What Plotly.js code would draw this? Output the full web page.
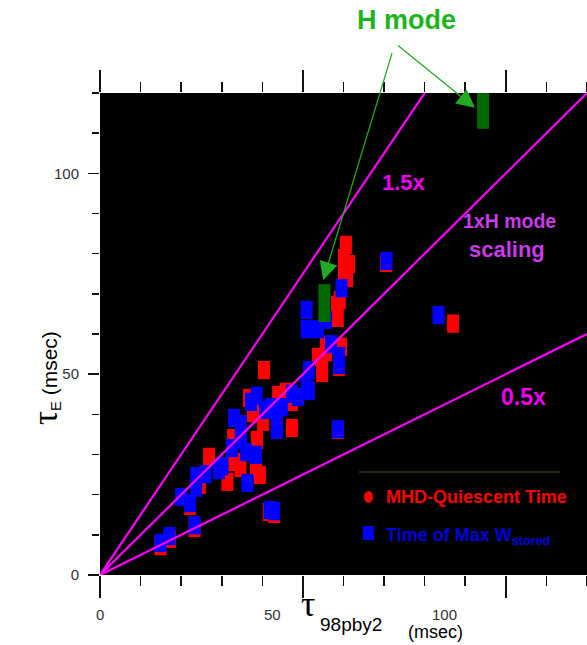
<!DOCTYPE html>
<html><head><meta charset="utf-8">
<script src="https://cdn.plot.ly/plotly-3.0.1.min.js"></script>
<style>html,body{margin:0;padding:0;background:#fff}#chart{width:587px;height:645px}</style>
</head><body><div id="chart"></div>
<script>
// MHD-quiescent time (red)
const mhdX = [14.9,17.2,23.3,22.2,41.6,42.9,24.6,31.4,26.9,33.0,34.6,38.4,39.4,32.8,38.7,40.2,37.7,36.7,40.4,45.8,47.3,47.3,43.9,53.7,54.7,54.7,55.7,55.7,59.4,58.9,58.6,59.1,58.4,58.6,60.1,61.4,60.1,60.9,60.6,70.5,87.0,58.4];
const mhdY = [7.2,9.0,11.7,17.2,15.7,15.2,22.4,23.2,29.4,28.1,26.6,26.6,24.9,34.1,33.6,38.1,40.3,44.1,51.0,45.6,43.1,36.6,44.8,54.3,52.0,50.3,57.3,55.5,56.8,51.8,36.1,68.5,66.0,64.0,78.9,77.4,75.4,73.9,82.2,77.7,62.6,67.2];
// Time of max W_stored (blue)
const wmaxX = [14.9,17.1,23.3,22.2,20.0,23.7,23.7,26.0,29.3,30.2,36.3,41.8,42.9,32.5,34.7,38.4,33.0,34.7,37.2,38.6,40.7,42.1,44.8,43.6,43.6,47.3,48.8,50.9,51.5,51.5,56.9,58.9,58.9,58.6,50.9,50.9,53.7,55.7,59.5,70.6,83.4,36.0];
const wmaxY = [8.0,9.7,12.4,17.9,19.4,21.7,24.6,25.1,26.1,27.1,22.9,16.2,15.9,31.6,33.6,29.9,39.1,37.6,43.1,44.6,41.1,41.8,41.8,38.1,36.1,45.1,44.3,47.5,45.8,51.0,57.5,54.5,52.3,36.3,66.0,61.2,61.2,63.5,71.4,78.2,64.7,30.6];
// H-mode shots (green)
const hmodeX = [94.4, 55.3];
const hmodeY = [115.8, 67.7];
// scaling lines
const scalingFactors = [1.5, 1, 0.5];
const xTickLabels = ['0', '50', '100'];
const xTickLabelPos = [0, 42.6, 85.0];

const XMAX = 120, YMAX = 120;
const SANS = 'Arial, "Liberation Sans", sans-serif';
const SERIF = '"Liberation Serif", "Times New Roman", serif';

function boxMarker(color, h, w) {
  return {symbol: 'line-ns', size: h, color: color, line: {width: w, color: color}};
}

const traces = [
  {type: 'scatter', mode: 'markers', x: mhdX, y: mhdY, name: 'MHD-Quiescent Time',
   marker: boxMarker('#ff0000', 13, 12), showlegend: false, hoverinfo: 'x+y'},
  {type: 'scatter', mode: 'markers', x: wmaxX, y: wmaxY, name: 'Time of Max W_stored',
   marker: boxMarker('#0000ff', 13, 12), showlegend: false, hoverinfo: 'x+y'},
  {type: 'scatter', mode: 'markers', x: hmodeX, y: hmodeY, name: 'H mode',
   marker: boxMarker('#006a00', 27, 12), showlegend: false, hoverinfo: 'x+y'}
];
scalingFactors.forEach(f => {
  traces.push({type: 'scatter', mode: 'lines', x: [0, XMAX], y: [0, XMAX * f],
    line: {color: '#ff00ff', width: 2.2}, showlegend: false, hoverinfo: 'skip'});
});

const px2px = (px) => (px - 100) / 487;   // paper x from pixel
const py2py = (py) => (575 - py) / 482;   // paper y from pixel

const annotations = [];
// x tick labels
xTickLabels.forEach((t, i) => {
  annotations.push({xref: 'x', yref: 'paper', x: xTickLabelPos[i], y: py2py(614), text: t,
    showarrow: false, xanchor: 'center', yanchor: 'middle', font: {family: SANS, size: 15, color: '#333'}});
});
// x title
annotations.push({xref: 'paper', yref: 'paper', x: px2px(308), y: py2py(604), text: 'τ', showarrow: false,
  xanchor: 'center', yanchor: 'middle', font: {family: SERIF, size: 36, color: '#000'}});
annotations.push({xref: 'paper', yref: 'paper', x: px2px(318), y: py2py(624), text: '98pby2', showarrow: false,
  xanchor: 'left', yanchor: 'middle', font: {family: SANS, size: 19, color: '#000'}});
annotations.push({xref: 'paper', yref: 'paper', x: px2px(406), y: py2py(632), text: '(msec)', showarrow: false,
  xanchor: 'left', yanchor: 'middle', font: {family: SANS, size: 18, color: '#000'}});
// y title
annotations.push({xref: 'paper', yref: 'paper', x: px2px(45), y: py2py(378), textangle: -90,
  text: '<span style="font-family:Liberation Serif;font-size:35px">τ</span><sub>E</sub> (msec)',
  showarrow: false, xanchor: 'center', yanchor: 'middle', font: {family: SANS, size: 21, color: '#000'}});
// H mode label + arrows
annotations.push({xref: 'paper', yref: 'paper', x: px2px(406), y: py2py(20), text: '<b>H mode</b>', showarrow: false,
  xanchor: 'center', yanchor: 'middle', font: {family: SANS, size: 27, color: '#1db41d'}});
annotations.push({xref: 'x', yref: 'y', x: 92.4, y: 116.3, axref: 'x', ayref: 'y', ax: 72.7, ay: 132.4,
  text: ' ', showarrow: true, arrowhead: 2, arrowsize: 2.8, arrowwidth: 1.3, arrowcolor: '#22aa22'});
annotations.push({xref: 'x', yref: 'y', x: 55.0, y: 73.4, axref: 'x', ayref: 'y', ax: 72.7, ay: 132.4,
  text: ' ', showarrow: true, arrowhead: 2, arrowsize: 2.8, arrowwidth: 1.3, arrowcolor: '#22aa22'});
// line labels
annotations.push({xref: 'paper', yref: 'paper', x: px2px(404), y: py2py(182), text: '<b>1.5x</b>', showarrow: false,
  xanchor: 'center', yanchor: 'middle', font: {family: SANS, size: 22, color: '#ee00ee'}});
annotations.push({xref: 'paper', yref: 'paper', x: px2px(461), y: py2py(221), text: '<b>1xH mode</b>', showarrow: false,
  xanchor: 'left', yanchor: 'middle', font: {family: SANS, size: 19.5, color: '#c93ae8'}});
annotations.push({xref: 'paper', yref: 'paper', x: px2px(467), y: py2py(250), text: '<b>scaling</b>', showarrow: false,
  xanchor: 'left', yanchor: 'middle', font: {family: SANS, size: 22, color: '#c93ae8'}});
annotations.push({xref: 'paper', yref: 'paper', x: px2px(523), y: py2py(397), text: '<b>0.5x</b>', showarrow: false,
  xanchor: 'center', yanchor: 'middle', font: {family: SANS, size: 23, color: '#ee00ee'}});
// legend texts
annotations.push({xref: 'paper', yref: 'paper', x: px2px(384), y: py2py(497), text: '<b>MHD-Quiescent Time</b>', showarrow: false,
  xanchor: 'left', yanchor: 'middle', font: {family: SANS, size: 18, color: '#ff0000'}});
annotations.push({xref: 'paper', yref: 'paper', x: px2px(384), y: py2py(536), text: '<b>Time of Max W<sub>stored</sub></b>', showarrow: false,
  xanchor: 'left', yanchor: 'middle', font: {family: SANS, size: 18, color: '#0000dd'}});

const shapes = [
  {type: 'line', xref: 'paper', yref: 'paper', x0: px2px(359), x1: px2px(560), y0: py2py(472), y1: py2py(472),
   line: {color: '#4d4d14', width: 1}},
  {type: 'circle', xref: 'paper', yref: 'paper', x0: px2px(364), x1: px2px(373), y0: py2py(503), y1: py2py(491),
   fillcolor: '#ff0000', line: {width: 0}},
  {type: 'rect', xref: 'paper', yref: 'paper', x0: px2px(363), x1: px2px(374), y0: py2py(540), y1: py2py(526),
   fillcolor: '#0000ff', line: {width: 0}}
];

const layout = {
  width: 587, height: 645,
  margin: {l: 100, r: 0, t: 93, b: 70, pad: 0},
  paper_bgcolor: '#ffffff', plot_bgcolor: '#000000',
  showlegend: false,
  xaxis: {range: [0, XMAX], showgrid: false, zeroline: false, showline: false,
    tickmode: 'linear', tick0: 0, dtick: 50, ticks: 'outside', ticklen: 22, tickwidth: 2, tickcolor: '#111',
    mirror: 'ticks', showticklabels: false, fixedrange: true,
    minor: {tickmode: 'linear', tick0: 0, dtick: 10, ticks: 'outside', ticklen: 10, tickwidth: 1.6, tickcolor: '#111', showgrid: false}},
  yaxis: {range: [0, YMAX], showgrid: false, zeroline: false, showline: false,
    tickmode: 'linear', tick0: 0, dtick: 50, ticks: 'outside', ticklen: 11, tickwidth: 1.5,
    tickcolor: '#111', mirror: 'ticks', ticklabelstandoff: 6, fixedrange: true,
    tickfont: {family: SANS, size: 15, color: '#333'},
    minor: {tickmode: 'linear', tick0: 0, dtick: 10, ticks: 'outside', ticklen: 7, tickwidth: 1.4, tickcolor: '#111', showgrid: false}},
  annotations: annotations,
  shapes: shapes
};

Plotly.newPlot('chart', traces, layout, {displayModeBar: false, staticPlot: true});
</script></body></html>
